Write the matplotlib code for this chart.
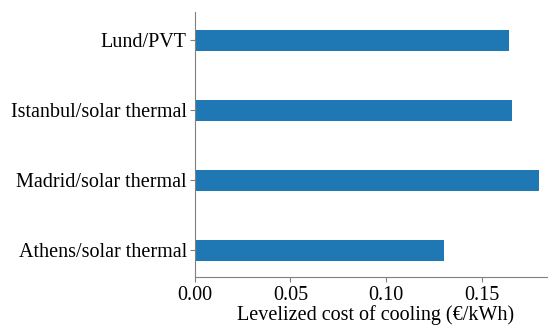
import matplotlib.pyplot as plt
import numpy as np

plt.rcParams['font.family'] = ['Liberation Serif', 'DejaVu Serif']

cities = ['Athens/solar thermal', 'Madrid/solar thermal',
          'Istanbul/solar thermal', 'Lund/PVT']
lcoc = [0.130, 0.1796, 0.1655, 0.164]

fig = plt.figure(figsize=(5.48, 3.26), dpi=100)
ax = fig.add_axes([0.355, 0.15, 0.66, 0.813])

y_pos = np.arange(len(cities))
ax.barh(y_pos, lcoc, height=0.3, color='#1f77b4')
ax.set_yticks(y_pos)
ax.set_yticklabels(cities, fontsize=14.5)
ax.set_xticks([0.0, 0.05, 0.10, 0.15])
ax.set_xticklabels(['0.00', '0.05', '0.10', '0.15'], fontsize=14.5)
ax.set_xlim(0, 0.1886)
ax.set_ylim(-0.38, 3.4)
ax.set_xlabel('Levelized cost of cooling (€/kWh)', fontsize=14.5, labelpad=0)

for s in ['top', 'right']:
    ax.spines[s].set_visible(False)
for s in ['left', 'bottom']:
    ax.spines[s].set_color('#808080')
ax.tick_params(colors='#808080', labelcolor='black', length=3.5, pad=2)
ax.tick_params(axis='x', pad=3)

fig.savefig('out.png', dpi=100)
